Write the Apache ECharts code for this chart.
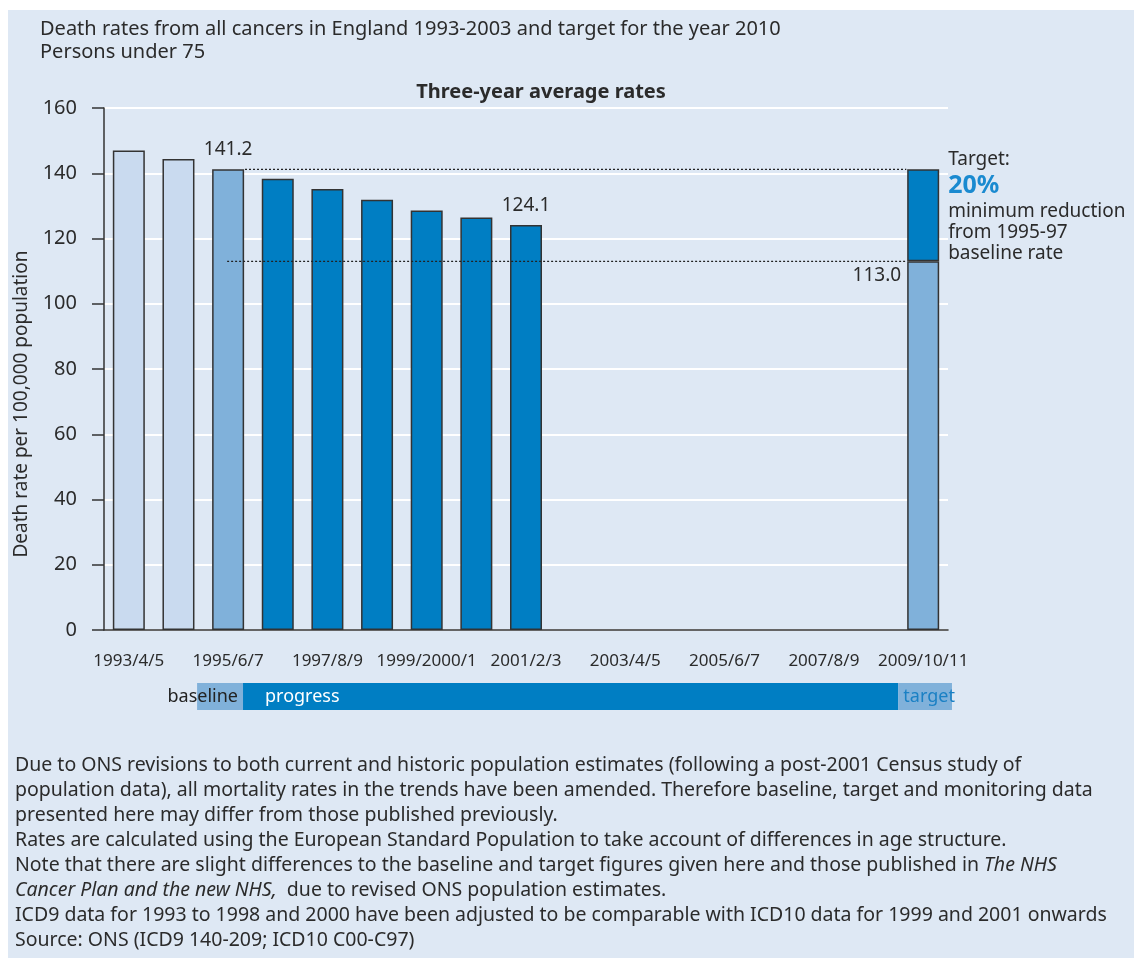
<!DOCTYPE html>
<html>
<head>
<meta charset="utf-8">
<script src="https://cdn.jsdelivr.net/npm/echarts@6/dist/echarts.min.js"></script>
<style>
html,body{margin:0;padding:0;background:#fff;}
#chart{width:1134px;height:963px;}
</style>
</head>
<body>
<div id="chart"></div>
<script>
// ---- data ----
const categories = ['1993/4/5','1994/5/6','1995/6/7','1996/7/8','1997/8/9','1998/9/2000','1999/2000/1','2000/1/2','2001/2/3','2002/3/4','2003/4/5','2004/5/6','2005/6/7','2006/7/8','2007/8/9','2008/9/10','2009/10/11'];
const preBaseline = [147.0, 144.4, null, null, null, null, null, null, null, null, null, null, null, null, null, null, null];
const baseline    = [null, null, 141.2, null, null, null, null, null, null, null, null, null, null, null, null, null, null];
const progress    = [null, null, null, 138.3, 135.2, 131.9, 128.6, 126.4, 124.1, null, null, null, null, null, null, null, null];
const targetRate  = [null, null, null, null, null, null, null, null, null, null, null, null, null, null, null, null, 113.0];
const targetReduction = [null, null, null, null, null, null, null, null, null, null, null, null, null, null, null, null, 28.2];
const yTicks = {min: 0, max: 160, interval: 20};
// reference lines in category units [x, value]
const baselineLine = [[2.84, 141.2], [16.16, 141.2]];
const targetLine   = [[2.48, 113.0], [16.16, 113.0]];
// bottom band segments (category units)
const bandNames = ['baseline', 'progress', 'target'];
const bandFrom  = [1.875, 2.8, 16.0];
const bandTo    = [2.8, 16.0, 17.08];
const headerLines = ['Death rates from all cancers in England 1993-2003 and target for the year 2010', 'Persons under 75'];
const chartTitle = 'Three-year average rates';
const yName = 'Death rate per 100,000 population';
const footnoteLines = [
 'Due to ONS revisions to both current and historic population estimates (following a post-2001 Census study of',
 'population data), all mortality rates in the trends have been amended. Therefore baseline, target and monitoring data',
 'presented here may differ from those published previously.',
 'Rates are calculated using the European Standard Population to take account of differences in age structure.',
 'Note that there are slight differences to the baseline and target figures given here and those published in {i|The NHS}',
 '{i|Cancer Plan and the new NHS,}  due to revised ONS population estimates.',
 'ICD9 data for 1993 to 1998 and 2000 have been adjusted to be comparable with ICD10 data for 1999 and 2001 onwards',
 'Source: ONS (ICD9 140-209; ICD10 C00-C97)'
];

// ---- styles ----
const FONT = "'Noto Sans', 'Open Sans', sans-serif";
const C_BG = '#dee8f4';
const C_LIGHT = '#c9daef';
const C_MID = '#80b1da';
const C_DARK = '#007ec3';
const C_TEXT = '#2b2b2b';
const BORDER = {borderColor: '#333', borderWidth: 1.5};
const bandColors = [C_MID, C_DARK, C_MID];
const bandText = [
  {fill: '#222', align: 'right', anchor: 'right', dx: -5},
  {fill: '#fff', align: 'left', anchor: 'left', dx: 22},
  {fill: '#1a80c4', align: 'left', anchor: 'left', dx: 5}
];

const chart = echarts.init(document.getElementById('chart'), null, {renderer: 'canvas'});

const option = {
  backgroundColor: '#fff',
  animation: false,
  title: [
    {
      text: headerLines.join('\n'), left: 40, top: 18, padding: 0,
      textStyle: {fontFamily: FONT, fontSize: 20, fontWeight: 'normal', color: C_TEXT, lineHeight: 23}
    },
    {
      text: chartTitle, left: 541, top: 82, textAlign: 'center', padding: 0,
      textStyle: {fontFamily: FONT, fontSize: 20, fontWeight: 'bold', color: C_TEXT}
    }
  ],
  graphic: [
    {type: 'rect', z: -10, silent: true, shape: {x: 8, y: 10, width: 1126, height: 948}, style: {fill: C_BG}},
    {type: 'text', x: 22, y: 404, rotation: Math.PI / 2, silent: true,
      style: {text: yName, font: "19px " + FONT, fill: C_TEXT, align: 'center', verticalAlign: 'middle'}},
    {type: 'text', x: 15, y: 753, silent: true,
      style: {text: footnoteLines.join('\n'), fontFamily: FONT, fontSize: 19.5, fill: C_TEXT, lineHeight: 25,
        rich: {i: {fontFamily: FONT, fontSize: 19.5, fontStyle: 'italic', fill: C_TEXT, lineHeight: 25}}}}
  ],
  grid: [
    {left: 104, right: 186, top: 108, bottom: 333},
    {left: 104, right: 186, top: 683, height: 27}
  ],
  xAxis: [
    {
      type: 'category', data: categories, gridIndex: 0, boundaryGap: true,
      axisLine: {lineStyle: {color: '#333', width: 1.5}},
      axisTick: {interval: 0, length: 11, lineStyle: {color: '#333', width: 1.5}},
      axisLabel: {interval: 1, margin: 23, fontFamily: FONT, fontSize: 17, color: C_TEXT},
      splitLine: {show: false}
    },
    {type: 'value', gridIndex: 0, min: 0, max: categories.length, show: false},
    {type: 'value', gridIndex: 1, min: 0, max: categories.length, show: false}
  ],
  yAxis: [
    {
      type: 'value', gridIndex: 0, min: yTicks.min, max: yTicks.max, interval: yTicks.interval,
      axisLine: {show: true, lineStyle: {color: '#333', width: 1.5}},
      axisTick: {show: true, length: 12, lineStyle: {color: '#333', width: 1.5}},
      axisLabel: {margin: 27, fontFamily: FONT, fontSize: 20, color: C_TEXT},
      splitLine: {show: true, lineStyle: {color: '#fff', width: 2}}
    },
    {type: 'value', gridIndex: 1, min: 0, max: 1, show: false}
  ],
  series: [
    {type: 'bar', name: 'pre', data: preBaseline, stack: 's', barWidth: 32,
      itemStyle: Object.assign({color: C_LIGHT}, BORDER)},
    {type: 'bar', name: 'baseline', data: baseline, stack: 's', barWidth: 32,
      itemStyle: Object.assign({color: C_MID}, BORDER),
      label: {show: true, position: 'top', distance: 10, fontFamily: FONT, fontSize: 19, color: C_TEXT,
        formatter: p => p.value == null ? '' : p.value.toFixed(1)}},
    {type: 'bar', name: 'progress', data: progress, stack: 's', barWidth: 32,
      itemStyle: Object.assign({color: C_DARK}, BORDER),
      label: {show: true, position: 'top', distance: 10, fontFamily: FONT, fontSize: 19, color: C_TEXT,
        formatter: p => (p.dataIndex === 8 ? p.value.toFixed(1) : '')}},
    {type: 'bar', name: 'targetRate', data: targetRate, stack: 's', barWidth: 32,
      itemStyle: Object.assign({color: C_MID}, BORDER),
      label: {show: true, position: [-6, 14], align: 'right', verticalAlign: 'middle',
        fontFamily: FONT, fontSize: 19, color: C_TEXT,
        formatter: p => p.value == null ? '' : p.value.toFixed(1)}},
    {type: 'bar', name: 'targetReduction', data: targetReduction, stack: 's', barWidth: 32,
      itemStyle: Object.assign({color: C_DARK}, BORDER),
      label: {show: true, position: [41, -22], align: 'left', verticalAlign: 'top',
        formatter: p => {
          const pct = Math.round(p.value / baseline[2] * 100);
          return '{t|Target:}\n{p|' + pct + '%}\n{m|minimum reduction}\n{m|from 1995-97}\n{m|baseline rate}';
        },
        rich: {
          t: {fontFamily: FONT, fontSize: 19, color: C_TEXT, lineHeight: 24},
          p: {fontFamily: FONT, fontSize: 25, fontWeight: 'bold', color: '#1a8ad0', lineHeight: 30},
          m: {fontFamily: FONT, fontSize: 19, color: C_TEXT, lineHeight: 21}
        }}},
    {type: 'line', xAxisIndex: 1, yAxisIndex: 0, data: baselineLine, symbol: 'none', silent: true, z: 5,
      lineStyle: {color: '#222', width: 1.2, type: [2, 2]}},
    {type: 'line', xAxisIndex: 1, yAxisIndex: 0, data: targetLine, symbol: 'none', silent: true, z: 5,
      lineStyle: {color: '#222', width: 1.2, type: [2, 2]}},
    {type: 'custom', xAxisIndex: 2, yAxisIndex: 1, silent: true,
      data: bandNames.map((n, i) => [bandFrom[i], bandTo[i], n]),
      renderItem: (params, api) => {
        const i = params.dataIndex;
        const p0 = api.coord([api.value(0), 1]);
        const p1 = api.coord([api.value(1), 0]);
        const ts = bandText[i];
        const tx = (ts.anchor === 'right' ? p1[0] : p0[0]) + ts.dx;
        return {
          type: 'group',
          children: [
            {type: 'rect', shape: {x: p0[0], y: p0[1], width: p1[0] - p0[0], height: p1[1] - p0[1]},
              style: {fill: bandColors[i]}},
            {type: 'text', x: tx, y: (p0[1] + p1[1]) / 2, z2: 10,
              style: {text: bandNames[i], font: '18px ' + FONT, fill: ts.fill, align: ts.align, verticalAlign: 'middle'}}
          ]
        };
      }}
  ]
};
chart.setOption(option);
</script>
</body>
</html>
